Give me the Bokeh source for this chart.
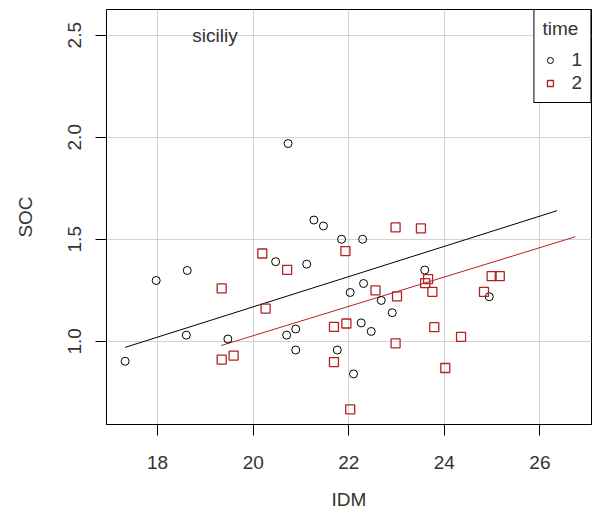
from bokeh.plotting import figure
from bokeh.models import Range1d, FixedTicker, Legend, LegendItem, ColumnDataSource
from bokeh.core.properties import value
from bokeh.embed import file_html
from bokeh.resources import INLINE

# ---- data ----
idm_t1 = [20.73, 21.27, 21.47, 21.85, 22.29, 20.47, 21.12, 17.97, 18.62, 18.60,
          19.47, 17.32, 20.70, 20.89, 20.89, 21.76, 23.59, 22.31, 22.03, 22.68,
          22.91, 24.94, 22.26, 22.47, 22.10]
soc_t1 = [1.969, 1.594, 1.565, 1.500, 1.500, 1.390, 1.378, 1.298, 1.347, 1.030,
          1.011, 0.902, 1.030, 1.060, 0.957, 0.957, 1.349, 1.283, 1.239, 1.200,
          1.140, 1.218, 1.090, 1.048, 0.840]

idm_t2 = [20.19, 20.71, 19.34, 20.26, 19.34, 19.59, 21.69, 21.69, 22.98, 23.51,
          21.93, 23.60, 23.66, 23.75, 22.56, 23.01, 24.99, 25.16, 24.83, 21.95,
          23.79, 24.35, 22.98, 24.02, 22.03]
soc_t2 = [1.430, 1.350, 1.259, 1.160, 0.910, 0.930, 1.070, 0.898, 1.558, 1.553,
          1.442, 1.285, 1.305, 1.242, 1.249, 1.220, 1.319, 1.319, 1.242, 1.087,
          1.069, 1.021, 0.990, 0.869, 0.666]

fit_x_t1 = [17.32, 26.36]
fit_y_t1 = [0.970, 1.640]
fit_x_t2 = [19.33, 26.74]
fit_y_t2 = [0.979, 1.512]

x_ticks = [18, 20, 22, 24, 26]
x_tick_labels = ["18", "20", "22", "24", "26"]
y_ticks = [1.0, 1.5, 2.0, 2.5]
y_tick_labels = ["1.0", "1.5", "2.0", "2.5"]

series_labels = ["1", "2"]
legend_title = "time"
annotation_text = ["siciliy"]
annotation_x = [19.2]
annotation_y = [2.5]

RED = "#B22222"
FONT = "Liberation Sans"
TXT = "#333333"

p = figure(width=594, height=512, output_backend="svg", toolbar_location=None,
           x_range=Range1d(16.93, 27.08), y_range=Range1d(0.592, 2.626),
           min_border_left=106, min_border_right=3, min_border_top=9,
           min_border_bottom=88)
p.background_fill_color = "white"
p.border_fill_color = "white"
p.outline_line_color = "black"
p.outline_line_width = 1
p.outline_line_alpha = 1

# grid
p.xgrid.ticker = FixedTicker(ticks=x_ticks)
p.ygrid.ticker = FixedTicker(ticks=y_ticks)
for g in (p.xgrid, p.ygrid):
    g.grid_line_color = "#D3D3D3"
    g.grid_line_width = 1

# axes
p.xaxis.ticker = FixedTicker(ticks=x_ticks)
p.yaxis.ticker = FixedTicker(ticks=y_ticks)
p.xaxis.major_label_overrides = {t: l for t, l in zip(x_ticks, x_tick_labels)}
p.yaxis.major_label_overrides = {t: l for t, l in zip(y_ticks, y_tick_labels)}
p.yaxis.major_label_orientation = "vertical"
p.xaxis.axis_label = "IDM"
p.yaxis.axis_label = "SOC"
for ax in (p.xaxis, p.yaxis):
    ax.axis_line_color = "black"
    ax.major_tick_line_color = "black"
    ax.major_tick_out = 11
    ax.major_tick_in = 0
    ax.minor_tick_line_color = None
    ax.major_label_text_font = FONT
    ax.major_label_text_font_size = "19px"
    ax.major_label_text_color = TXT
    ax.axis_label_text_font = FONT
    ax.axis_label_text_font_size = "19px"
    ax.axis_label_text_font_style = "normal"
    ax.axis_label_text_color = TXT
p.xaxis.major_label_standoff = 20
p.xaxis.axis_label_standoff = 17
p.yaxis.major_label_standoff = 14
p.yaxis.axis_label_standoff = 30

# fitted lines
p.line(fit_x_t1, fit_y_t1, line_color="black", line_width=1)
p.line(fit_x_t2, fit_y_t2, line_color=RED, line_width=1)

# points
src1 = ColumnDataSource(dict(x=idm_t1, y=soc_t1))
src2 = ColumnDataSource(dict(x=idm_t2, y=soc_t2))
r1 = p.scatter("x", "y", source=src1, marker="circle", size=8,
               fill_color=None, line_color="black", line_width=1)
r2 = p.scatter("x", "y", source=src2, marker="square", size=9,
               fill_color=None, line_color=RED, line_width=1.3)

# annotation text
p.text(x=annotation_x, y=annotation_y, text=annotation_text,
       text_font=value(FONT), text_font_size="19px", text_color=TXT,
       text_align="center", text_baseline="middle")

legend = Legend(items=[LegendItem(label=series_labels[0], renderers=[r1]),
                       LegendItem(label=series_labels[1], renderers=[r2])],
                location="top_right", title=legend_title)
legend.margin = 0
legend.padding = 8
legend.spacing = 1
legend.border_line_color = "black"
legend.border_line_width = 1
legend.border_line_alpha = 1
legend.background_fill_color = "white"
legend.background_fill_alpha = 1
legend.title_text_font = FONT
legend.title_text_font_size = "19px"
legend.title_text_font_style = "normal"
legend.title_text_color = TXT
legend.title_standoff = 9
legend.label_text_font = FONT
legend.label_text_font_size = "19px"
legend.label_text_color = TXT
legend.label_standoff = 14
legend.label_width = 10
legend.label_height = 20
legend.glyph_width = 15
legend.glyph_height = 20
p.add_layout(legend, "center")

open("out.html", "w").write(file_html(p, INLINE))
